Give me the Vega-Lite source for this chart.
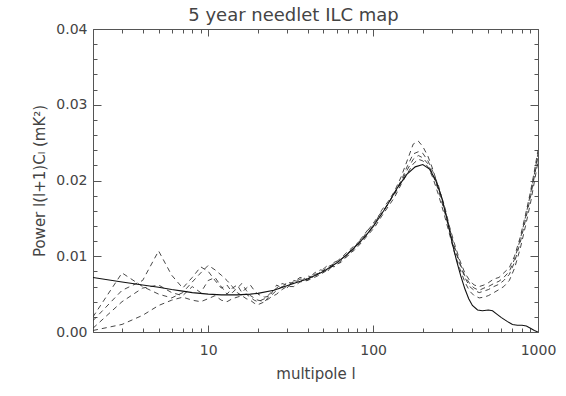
{
  "$schema": "https://vega.github.io/schema/vega-lite/v6.json",
  "autosize": "none",
  "width": 445,
  "height": 303,
  "padding": {"left": 93, "top": 29, "right": 28, "bottom": 64},
  "background": "white",
  "config": {
    "view": {"stroke": null},
    "font": "DejaVu Sans",
    "axis": {"labelFont": "DejaVu Sans", "titleFont": "DejaVu Sans", "labelColor": "#444", "titleColor": "#444", "titleFontWeight": "normal", "labelFontSize": 14, "titleFontSize": 15, "domainColor": "#555", "tickColor": "#555", "grid": false}
  },
  "title": {"text": "5 year needlet ILC map", "fontSize": 18, "fontWeight": "normal", "color": "#444", "font": "DejaVu Sans", "anchor": "middle", "offset": -3, "dx": -22},
  "datasets": {
    "theory": [
      {"l": 2, "p": 0.0072}, {"l": 3, "p": 0.0066}, {"l": 4, "p": 0.0062}, {"l": 5, "p": 0.0059}, {"l": 6, "p": 0.0056}, {"l": 7, "p": 0.0054}, {"l": 8, "p": 0.0052}, {"l": 10, "p": 0.0050}, {"l": 12, "p": 0.0049}, {"l": 15, "p": 0.0049}, {"l": 18, "p": 0.0050}, {"l": 20, "p": 0.0051}, {"l": 25, "p": 0.0055}, {"l": 30, "p": 0.0061}, {"l": 35, "p": 0.0066}, {"l": 40, "p": 0.0070}, {"l": 50, "p": 0.0080}, {"l": 60, "p": 0.0091}, {"l": 70, "p": 0.0103}, {"l": 80, "p": 0.0115}, {"l": 90, "p": 0.0127}, {"l": 100, "p": 0.0139}, {"l": 120, "p": 0.0165}, {"l": 140, "p": 0.0190}, {"l": 160, "p": 0.0208}, {"l": 180, "p": 0.0218}, {"l": 200, "p": 0.0221}, {"l": 220, "p": 0.0215}, {"l": 240, "p": 0.0200}, {"l": 260, "p": 0.0178}, {"l": 280, "p": 0.0150}, {"l": 300, "p": 0.0120}, {"l": 320, "p": 0.0095}, {"l": 340, "p": 0.0074}, {"l": 360, "p": 0.0057}, {"l": 380, "p": 0.0044}, {"l": 400, "p": 0.0035}, {"l": 430, "p": 0.0029}, {"l": 460, "p": 0.0028}, {"l": 500, "p": 0.0029}, {"l": 530, "p": 0.0028}, {"l": 560, "p": 0.0024}, {"l": 600, "p": 0.0019}, {"l": 650, "p": 0.0014}, {"l": 700, "p": 0.0010}, {"l": 750, "p": 0.0009}, {"l": 800, "p": 0.0009}, {"l": 850, "p": 0.0008}, {"l": 900, "p": 0.0005}, {"l": 950, "p": 0.0002}, {"l": 1000, "p": 0.0000}
    ],
    "maps": [
      {"s":"A","l":2,"p":0.0015},{"s":"A","l":3,"p":0.0055},{"s":"A","l":4,"p":0.0068},{"s":"A","l":5,"p":0.0107},{"s":"A","l":6,"p":0.0075},{"s":"A","l":7,"p":0.0058},{"s":"A","l":8,"p":0.0072},{"s":"A","l":9,"p":0.0086},{"s":"A","l":10,"p":0.0080},{"s":"A","l":11,"p":0.0068},{"s":"A","l":12,"p":0.0058},{"s":"A","l":13,"p":0.0062},{"s":"A","l":14,"p":0.0052},{"s":"A","l":15,"p":0.0058},{"s":"A","l":16,"p":0.0064},{"s":"A","l":17,"p":0.0055},{"s":"A","l":18,"p":0.0048},{"s":"A","l":19,"p":0.0045},{"s":"A","l":20,"p":0.0042},{"s":"A","l":22,"p":0.0040},{"s":"A","l":24,"p":0.0050},{"s":"A","l":26,"p":0.0062},{"s":"A","l":28,"p":0.0058},{"s":"A","l":30,"p":0.0066},{"s":"A","l":33,"p":0.0064},{"s":"A","l":36,"p":0.0070},{"s":"A","l":40,"p":0.0068},{"s":"A","l":44,"p":0.0078},{"s":"A","l":48,"p":0.0082},{"s":"A","l":53,"p":0.0080},{"s":"A","l":58,"p":0.0092},{"s":"A","l":64,"p":0.0096},{"s":"A","l":70,"p":0.0104},{"s":"A","l":77,"p":0.0112},{"s":"A","l":85,"p":0.0124},{"s":"A","l":93,"p":0.0135},{"s":"A","l":102,"p":0.0142},{"s":"A","l":112,"p":0.0160},{"s":"A","l":123,"p":0.0172},{"s":"A","l":135,"p":0.0186},{"s":"A","l":148,"p":0.0205},{"s":"A","l":162,"p":0.0228},{"s":"A","l":175,"p":0.0248},{"s":"A","l":188,"p":0.0252},{"s":"A","l":200,"p":0.0245},{"s":"A","l":215,"p":0.0232},{"s":"A","l":230,"p":0.0215},{"s":"A","l":250,"p":0.0190},{"s":"A","l":270,"p":0.0168},{"s":"A","l":290,"p":0.0140},{"s":"A","l":310,"p":0.0118},{"s":"A","l":335,"p":0.0095},{"s":"A","l":360,"p":0.0078},{"s":"A","l":385,"p":0.0068},{"s":"A","l":410,"p":0.0062},{"s":"A","l":440,"p":0.0060},{"s":"A","l":470,"p":0.0062},{"s":"A","l":500,"p":0.0065},{"s":"A","l":540,"p":0.0070},{"s":"A","l":580,"p":0.0072},{"s":"A","l":620,"p":0.0078},{"s":"A","l":670,"p":0.0085},{"s":"A","l":720,"p":0.0100},{"s":"A","l":780,"p":0.0125},{"s":"A","l":840,"p":0.0155},{"s":"A","l":900,"p":0.0185},{"s":"A","l":950,"p":0.0212},{"s":"A","l":1000,"p":0.0240},
      {"s":"B","l":2,"p":0.0005},{"s":"B","l":3,"p":0.0040},{"s":"B","l":4,"p":0.0058},{"s":"B","l":5,"p":0.0062},{"s":"B","l":6,"p":0.0052},{"s":"B","l":7,"p":0.0048},{"s":"B","l":8,"p":0.0060},{"s":"B","l":9,"p":0.0052},{"s":"B","l":10,"p":0.0068},{"s":"B","l":11,"p":0.0072},{"s":"B","l":12,"p":0.0060},{"s":"B","l":13,"p":0.0050},{"s":"B","l":14,"p":0.0058},{"s":"B","l":15,"p":0.0062},{"s":"B","l":16,"p":0.0052},{"s":"B","l":17,"p":0.0058},{"s":"B","l":18,"p":0.0062},{"s":"B","l":19,"p":0.0055},{"s":"B","l":20,"p":0.0050},{"s":"B","l":22,"p":0.0046},{"s":"B","l":24,"p":0.0048},{"s":"B","l":26,"p":0.0055},{"s":"B","l":28,"p":0.0060},{"s":"B","l":30,"p":0.0058},{"s":"B","l":33,"p":0.0068},{"s":"B","l":36,"p":0.0066},{"s":"B","l":40,"p":0.0074},{"s":"B","l":44,"p":0.0072},{"s":"B","l":48,"p":0.0080},{"s":"B","l":53,"p":0.0088},{"s":"B","l":58,"p":0.0086},{"s":"B","l":64,"p":0.0094},{"s":"B","l":70,"p":0.0100},{"s":"B","l":77,"p":0.0110},{"s":"B","l":85,"p":0.0120},{"s":"B","l":93,"p":0.0130},{"s":"B","l":102,"p":0.0144},{"s":"B","l":112,"p":0.0155},{"s":"B","l":123,"p":0.0170},{"s":"B","l":135,"p":0.0182},{"s":"B","l":148,"p":0.0198},{"s":"B","l":162,"p":0.0215},{"s":"B","l":175,"p":0.0228},{"s":"B","l":188,"p":0.0233},{"s":"B","l":200,"p":0.0230},{"s":"B","l":215,"p":0.0222},{"s":"B","l":230,"p":0.0208},{"s":"B","l":250,"p":0.0186},{"s":"B","l":270,"p":0.0160},{"s":"B","l":290,"p":0.0135},{"s":"B","l":310,"p":0.0112},{"s":"B","l":335,"p":0.0090},{"s":"B","l":360,"p":0.0072},{"s":"B","l":385,"p":0.0060},{"s":"B","l":410,"p":0.0055},{"s":"B","l":440,"p":0.0052},{"s":"B","l":470,"p":0.0054},{"s":"B","l":500,"p":0.0056},{"s":"B","l":540,"p":0.0060},{"s":"B","l":580,"p":0.0063},{"s":"B","l":620,"p":0.0068},{"s":"B","l":670,"p":0.0076},{"s":"B","l":720,"p":0.0092},{"s":"B","l":780,"p":0.0118},{"s":"B","l":840,"p":0.0148},{"s":"B","l":900,"p":0.0178},{"s":"B","l":950,"p":0.0205},{"s":"B","l":1000,"p":0.0232},
      {"s":"C","l":2,"p":0.0002},{"s":"C","l":3,"p":0.0010},{"s":"C","l":4,"p":0.0022},{"s":"C","l":5,"p":0.0035},{"s":"C","l":6,"p":0.0042},{"s":"C","l":7,"p":0.0046},{"s":"C","l":8,"p":0.0042},{"s":"C","l":9,"p":0.0040},{"s":"C","l":10,"p":0.0044},{"s":"C","l":11,"p":0.0048},{"s":"C","l":12,"p":0.0042},{"s":"C","l":13,"p":0.0040},{"s":"C","l":14,"p":0.0044},{"s":"C","l":15,"p":0.0046},{"s":"C","l":16,"p":0.0048},{"s":"C","l":17,"p":0.0044},{"s":"C","l":18,"p":0.0042},{"s":"C","l":19,"p":0.0038},{"s":"C","l":20,"p":0.0036},{"s":"C","l":22,"p":0.0040},{"s":"C","l":24,"p":0.0046},{"s":"C","l":26,"p":0.0050},{"s":"C","l":28,"p":0.0056},{"s":"C","l":30,"p":0.0060},{"s":"C","l":33,"p":0.0060},{"s":"C","l":36,"p":0.0066},{"s":"C","l":40,"p":0.0068},{"s":"C","l":44,"p":0.0072},{"s":"C","l":48,"p":0.0076},{"s":"C","l":53,"p":0.0082},{"s":"C","l":58,"p":0.0088},{"s":"C","l":64,"p":0.0092},{"s":"C","l":70,"p":0.0102},{"s":"C","l":77,"p":0.0108},{"s":"C","l":85,"p":0.0118},{"s":"C","l":93,"p":0.0128},{"s":"C","l":102,"p":0.0138},{"s":"C","l":112,"p":0.0152},{"s":"C","l":123,"p":0.0165},{"s":"C","l":135,"p":0.0178},{"s":"C","l":148,"p":0.0195},{"s":"C","l":162,"p":0.0210},{"s":"C","l":175,"p":0.0222},{"s":"C","l":188,"p":0.0228},{"s":"C","l":200,"p":0.0226},{"s":"C","l":215,"p":0.0218},{"s":"C","l":230,"p":0.0204},{"s":"C","l":250,"p":0.0180},{"s":"C","l":270,"p":0.0155},{"s":"C","l":290,"p":0.0130},{"s":"C","l":310,"p":0.0106},{"s":"C","l":335,"p":0.0084},{"s":"C","l":360,"p":0.0066},{"s":"C","l":385,"p":0.0054},{"s":"C","l":410,"p":0.0048},{"s":"C","l":440,"p":0.0045},{"s":"C","l":470,"p":0.0046},{"s":"C","l":500,"p":0.0048},{"s":"C","l":540,"p":0.0052},{"s":"C","l":580,"p":0.0056},{"s":"C","l":620,"p":0.0060},{"s":"C","l":670,"p":0.0068},{"s":"C","l":720,"p":0.0084},{"s":"C","l":780,"p":0.0110},{"s":"C","l":840,"p":0.0140},{"s":"C","l":900,"p":0.0170},{"s":"C","l":950,"p":0.0198},{"s":"C","l":1000,"p":0.0225},
      {"s":"D","l":2,"p":0.0020},{"s":"D","l":3,"p":0.0078},{"s":"D","l":4,"p":0.0060},{"s":"D","l":5,"p":0.0050},{"s":"D","l":6,"p":0.0045},{"s":"D","l":7,"p":0.0052},{"s":"D","l":8,"p":0.0066},{"s":"D","l":9,"p":0.0078},{"s":"D","l":10,"p":0.0088},{"s":"D","l":11,"p":0.0082},{"s":"D","l":12,"p":0.0075},{"s":"D","l":13,"p":0.0068},{"s":"D","l":14,"p":0.0060},{"s":"D","l":15,"p":0.0052},{"s":"D","l":16,"p":0.0048},{"s":"D","l":17,"p":0.0050},{"s":"D","l":18,"p":0.0046},{"s":"D","l":19,"p":0.0042},{"s":"D","l":20,"p":0.0040},{"s":"D","l":22,"p":0.0044},{"s":"D","l":24,"p":0.0052},{"s":"D","l":26,"p":0.0058},{"s":"D","l":28,"p":0.0064},{"s":"D","l":30,"p":0.0062},{"s":"D","l":33,"p":0.0066},{"s":"D","l":36,"p":0.0072},{"s":"D","l":40,"p":0.0070},{"s":"D","l":44,"p":0.0076},{"s":"D","l":48,"p":0.0078},{"s":"D","l":53,"p":0.0086},{"s":"D","l":58,"p":0.0090},{"s":"D","l":64,"p":0.0098},{"s":"D","l":70,"p":0.0106},{"s":"D","l":77,"p":0.0114},{"s":"D","l":85,"p":0.0122},{"s":"D","l":93,"p":0.0134},{"s":"D","l":102,"p":0.0146},{"s":"D","l":112,"p":0.0158},{"s":"D","l":123,"p":0.0168},{"s":"D","l":135,"p":0.0184},{"s":"D","l":148,"p":0.0200},{"s":"D","l":162,"p":0.0220},{"s":"D","l":175,"p":0.0235},{"s":"D","l":188,"p":0.0238},{"s":"D","l":200,"p":0.0236},{"s":"D","l":215,"p":0.0226},{"s":"D","l":230,"p":0.0212},{"s":"D","l":250,"p":0.0192},{"s":"D","l":270,"p":0.0165},{"s":"D","l":290,"p":0.0138},{"s":"D","l":310,"p":0.0114},{"s":"D","l":335,"p":0.0092},{"s":"D","l":360,"p":0.0074},{"s":"D","l":385,"p":0.0064},{"s":"D","l":410,"p":0.0058},{"s":"D","l":440,"p":0.0055},{"s":"D","l":470,"p":0.0058},{"s":"D","l":500,"p":0.0060},{"s":"D","l":540,"p":0.0064},{"s":"D","l":580,"p":0.0067},{"s":"D","l":620,"p":0.0072},{"s":"D","l":670,"p":0.0080},{"s":"D","l":720,"p":0.0096},{"s":"D","l":780,"p":0.0122},{"s":"D","l":840,"p":0.0152},{"s":"D","l":900,"p":0.0182},{"s":"D","l":950,"p":0.0208},{"s":"D","l":1000,"p":0.0236}
    ]
  },
  "layer": [
    {
      "data": {"name": "maps"},
      "mark": {"type": "line", "color": "#333", "strokeWidth": 0.9, "strokeDash": [5, 4], "clip": true},
      "encoding": {
        "x": {"field": "l", "type": "quantitative", "scale": {"type": "log", "domain": [2, 1000], "nice": false},
          "axis": {"orient": "bottom", "title": "multipole l", "titlePadding": 6,
            "values": [2,3,4,5,6,7,8,9,10,20,30,40,50,60,70,80,90,100,200,300,400,500,600,700,800,900,1000],
            "labelExpr": "(datum.value == 10 || datum.value == 100 || datum.value == 1000) ? datum.value : ''",
            "tickSize": {"condition": {"test": "datum.value == 10 || datum.value == 100 || datum.value == 1000", "value": -7}, "value": -4},
            "labelPadding": 18, "labelFlush": false, "labelOverlap": false}},
        "y": {"field": "p", "type": "quantitative", "scale": {"domain": [0, 0.04], "nice": false},
          "axis": {"orient": "left", "title": "Power  l(l+1)Cₗ  (mK²)", "titlePadding": 8,
            "values": [0,0.002,0.004,0.006,0.008,0.01,0.012,0.014,0.016,0.018,0.02,0.022,0.024,0.026,0.028,0.03,0.032,0.034,0.036,0.038,0.04],
            "labelExpr": "abs(datum.value*100 - round(datum.value*100)) < 0.000001 ? format(datum.value, '.2f') : ''",
            "tickSize": {"condition": {"test": "abs(datum.value*100 - round(datum.value*100)) < 0.000001", "value": -8}, "value": -4},
            "labelPadding": 14, "labelOverlap": false}},
        "detail": {"field": "s", "type": "nominal"}
      }
    },
    {
      "data": {"name": "theory"},
      "mark": {"type": "line", "color": "#111", "strokeWidth": 1.1, "clip": true},
      "encoding": {
        "x": {"field": "l", "type": "quantitative", "axis": null},
        "y": {"field": "p", "type": "quantitative", "axis": null}
      }
    },
    {
      "data": {"name": "theory"},
      "mark": {"type": "line", "opacity": 0},
      "encoding": {
        "x": {"field": "l", "type": "quantitative",
          "axis": {"orient": "top", "title": null, "labels": false,
            "values": [2,3,4,5,6,7,8,9,10,20,30,40,50,60,70,80,90,100,200,300,400,500,600,700,800,900,1000],
            "tickSize": {"condition": {"test": "datum.value == 10 || datum.value == 100 || datum.value == 1000", "value": -7}, "value": -4}}},
        "y": {"field": "p", "type": "quantitative",
          "axis": {"orient": "right", "title": null, "labels": false,
            "values": [0,0.002,0.004,0.006,0.008,0.01,0.012,0.014,0.016,0.018,0.02,0.022,0.024,0.026,0.028,0.03,0.032,0.034,0.036,0.038,0.04],
            "tickSize": {"condition": {"test": "abs(datum.value*100 - round(datum.value*100)) < 0.000001", "value": -8}, "value": -4}}}
      }
    }
  ],
  "resolve": {"axis": {"x": "independent", "y": "independent"}}
}
